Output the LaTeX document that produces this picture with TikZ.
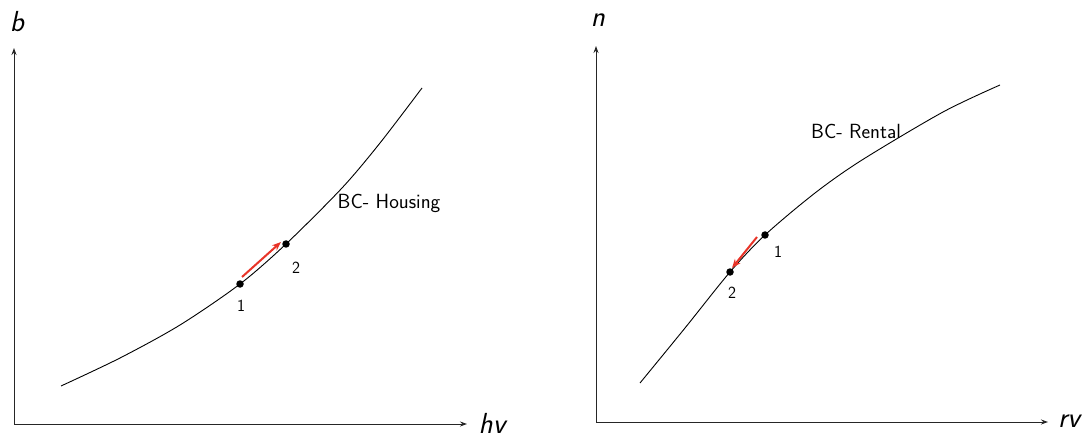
\documentclass[tikz,border=0pt]{standalone}
\usetikzlibrary{arrows.meta}
\begin{document}
\begin{tikzpicture}[x=1pt,y=-1pt,
  axis/.style={draw=black!85,line width=0.9pt,-{Stealth[length=7pt,width=5pt]}},
  curve/.style={draw=black,line width=0.9pt},
  dot/.style={circle,fill=black,inner sep=0pt,minimum size=7.5pt},
  move/.style={draw={rgb,255:red,232;green,52;blue,40},line width=2pt,-{Stealth[length=9pt,width=7pt]}},
  axlabel/.style={font=\fontsize{29}{34}\selectfont\sffamily\itshape,inner sep=0pt},
  ptlabel/.style={font=\fontsize{17}{20}\selectfont\sffamily},
  bclabel/.style={font=\fontsize{20.5}{24}\selectfont\sffamily}]
\useasboundingbox (0,0) rectangle (1086,438);
% left panel
\coordinate (oL) at (14,424);
\coordinate (yL) at (14,48);
\coordinate (xL) at (467,424);
\draw[axis] (oL) -- (yL);
\draw[axis] (oL) -- (xL);
\node[axlabel] (bL) at (17,22) {b};
\node[axlabel] (hv) at (492,423) {hv};
\node[dot] (p1L) at (240,284) {};
\node[dot] (p2L) at (286,244) {};
\draw[curve] plot[smooth,tension=0.5] coordinates {(61,386) (120,358) (180,325) (p1L) (p2L) (342,188) (380,143) (422,88)};
\coordinate (aL0) at (242,277);
\coordinate (aL1) at (281,242);
\draw[move] (aL0) -- (aL1);
\node[ptlabel] (l1L) at (241,306) {1};
\node[ptlabel] (l2L) at (296,268) {2};
\node[bclabel] (bcH) at (389,203) {BC- Housing};
% right panel
\coordinate (oR) at (596,422);
\coordinate (yR) at (596,46);
\coordinate (xR) at (1048,422);
\draw[axis] (oR) -- (yR);
\draw[axis] (oR) -- (xR);
\node[axlabel] (nR) at (598,20) {n};
\node[axlabel] (rv) at (1069,421) {rv};
\node[dot] (p2R) at (730,272) {};
\node[dot] (p1R) at (765,235) {};
\draw[curve] plot[smooth,tension=0.5] coordinates {(640,383) (685,328) (p2R) (p1R) (815,193) (862,160) (943,112) (1000,85)};
\coordinate (aR0) at (757,237);
\coordinate (aR1) at (732,268);
\draw[move] (aR0) -- (aR1);
\node[ptlabel] (l1R) at (778,252) {1};
\node[ptlabel] (l2R) at (732,293) {2};
\node[bclabel] (bcR) at (856,131) {BC- Rental};
\end{tikzpicture}
\end{document}
